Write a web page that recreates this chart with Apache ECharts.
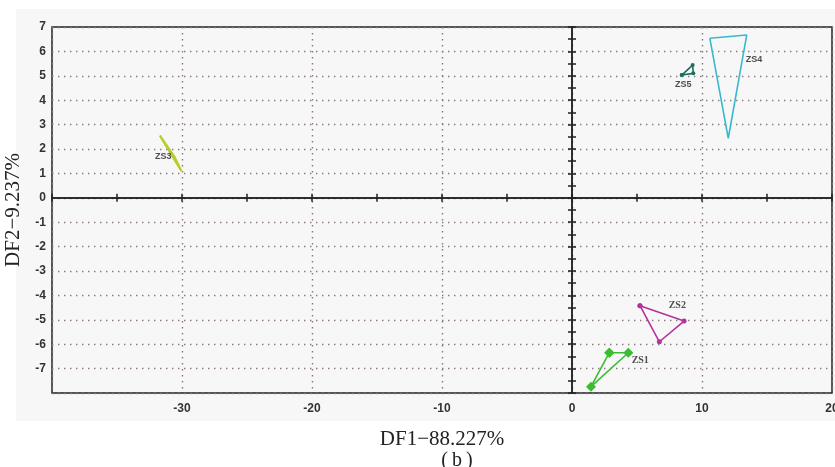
<!DOCTYPE html>
<html>
<head>
<meta charset="utf-8">
<script src="https://cdn.jsdelivr.net/npm/echarts@6/dist/echarts.min.js"></script>
<style>
html,body{margin:0;padding:0;background:#fff;}
#panel{position:absolute;left:16px;top:9px;width:819px;height:412px;background:#f7f7f7;}
#chart{position:absolute;left:0;top:0;width:835px;height:467px;}
</style>
</head>
<body>
<div id="panel"></div>
<div id="chart"></div>
<script>
// ---- data ----
const groupNames = ['ZS1', 'ZS2', 'ZS3', 'ZS4', 'ZS5'];
const zs1 = [[2.87, -6.35], [4.33, -6.35], [1.46, -7.74]];
const zs2 = [[5.23, -4.42], [8.62, -5.05], [6.72, -5.9]];
const zs3 = [[-31.7, 2.55], [-30.05, 1.1], [-30.6, 1.7]];
const zs4 = [[10.6, 6.54], [13.44, 6.67], [12.02, 2.44]];
const zs5 = [[8.44, 5.03], [9.28, 5.44], [9.33, 5.1]];
const labelAnchors = [[5.25, -6.65], [8.1, -4.43], [-31.45, 1.71], [14.0, 5.65], [8.55, 4.66]];
const xTickLabels = [-30, -20, -10, 0, 10, 20];
const yTickLabels = [-7, -6, -5, -4, -3, -2, -1, 0, 1, 2, 3, 4, 5, 6, 7];

const colors = ['#3dbb35', '#b3329d', '#b9cc2c', '#3ab9cc', '#1f6d5f'];
const symbols = ['diamond', 'circle', 'none', 'none', 'circle'];
const symbolSizes = [10, 5, 0, 0, 4];
const labelFonts = ['Liberation Serif', 'Liberation Serif', 'Liberation Sans', 'Liberation Sans', 'Liberation Sans'];
const groups = [zs1, zs2, zs3, zs4, zs5];

const chart = echarts.init(document.getElementById('chart'), null, {renderer: 'canvas'});

const dotted = {show: true, lineStyle: {color: '#8a7878', width: 1.4, type: [1.4, 4.6]}};
const tickFont = {fontFamily: 'Liberation Sans', fontWeight: 'bold', fontSize: 12, color: '#333'};

const series = groups.map((g, i) => ({
  type: 'line',
  name: groupNames[i],
  xAxisIndex: 0, yAxisIndex: 0,
  data: g.concat([g[0]]),
  symbol: symbols[i],
  symbolSize: symbolSizes[i],
  showSymbol: symbols[i] !== 'none',
  lineStyle: {color: colors[i], width: i === 2 ? 2.2 : 1.6},
  itemStyle: {color: colors[i]},
  silent: true,
  z: 5
}));
series.push({
  type: 'scatter',
  xAxisIndex: 0, yAxisIndex: 0,
  data: labelAnchors.map((p, i) => ({
    value: p, name: groupNames[i],
    label: {fontFamily: labelFonts[i], fontSize: labelFonts[i] === 'Liberation Sans' ? 9 : 10}
  })),
  symbolSize: 0,
  label: {show: true, position: 'inside', formatter: '{b}', fontWeight: 'bold', color: '#222'},
  silent: true,
  z: 6
});

const xBase = {type: 'value', min: -40, max: 20, gridIndex: 0};
const yBase = {type: 'value', min: -8, max: 7, gridIndex: 0};

chart.setOption({
  animation: false,
  backgroundColor: 'transparent',
  grid: {left: 52, top: 27, right: 3, bottom: 74, containLabel: false, outerBoundsMode: 'none',
    show: true, borderColor: '#222', borderWidth: 1.5, backgroundColor: 'transparent'},
  title: {text: '(\u2009b\u2009)', left: 452, top: 446, textAlign: 'center',
    textStyle: {fontFamily: 'Liberation Serif', fontWeight: 'normal', fontSize: 20, color: '#222'}},
  xAxis: [
    Object.assign({}, xBase, {
      position: 'bottom', interval: 10,
      axisLine: {show: false, onZero: false},
      axisTick: {show: false},
      axisLabel: Object.assign({}, tickFont, {margin: 10, formatter: v => (xTickLabels.indexOf(v) >= 0 ? String(v) : '')}),
      splitLine: dotted,
      name: 'DF1\u221288.227%', nameLocation: 'middle', nameGap: 36,
      nameTextStyle: {fontFamily: 'Liberation Serif', fontSize: 21, color: '#222'}
    }),
    Object.assign({}, xBase, {
      position: 'bottom', interval: 5,
      axisLine: {show: true, onZero: true, onZeroAxisIndex: 0, lineStyle: {color: '#222', width: 1.5}},
      axisTick: {show: true, inside: false, length: 4, lineStyle: {color: '#222', width: 1.5}},
      axisLabel: {show: false}, splitLine: {show: false}
    }),
    Object.assign({}, xBase, {
      position: 'top', interval: 5,
      axisLine: {show: true, onZero: true, onZeroAxisIndex: 0, lineStyle: {color: '#222', width: 1.5}},
      axisTick: {show: true, inside: false, length: 4, lineStyle: {color: '#222', width: 1.5}},
      axisLabel: {show: false}, splitLine: {show: false}
    })
  ],
  yAxis: [
    Object.assign({}, yBase, {
      position: 'left', interval: 1,
      axisLine: {show: false, onZero: false},
      axisTick: {show: false},
      axisLabel: Object.assign({}, tickFont, {margin: 6, formatter: v => (yTickLabels.indexOf(v) >= 0 ? String(v) : '')}),
      splitLine: dotted,
      name: 'DF2\u22129.237%', nameLocation: 'middle', nameGap: 21,
      nameTextStyle: {fontFamily: 'Liberation Serif', fontSize: 21, color: '#222'}
    }),
    Object.assign({}, yBase, {
      position: 'left', interval: 0.5,
      axisLine: {show: true, onZero: true, onZeroAxisIndex: 0, lineStyle: {color: '#222', width: 1.5}},
      axisTick: {show: true, inside: false, length: 4, lineStyle: {color: '#222', width: 1.5}},
      axisLabel: {show: false}, splitLine: {show: false}
    }),
    Object.assign({}, yBase, {
      position: 'right', interval: 0.5,
      axisLine: {show: true, onZero: true, onZeroAxisIndex: 0, lineStyle: {color: '#222', width: 1.5}},
      axisTick: {show: true, inside: false, length: 4, lineStyle: {color: '#222', width: 1.5}},
      axisLabel: {show: false}, splitLine: {show: false}
    })
  ],
  series: series
});
</script>
</body>
</html>
